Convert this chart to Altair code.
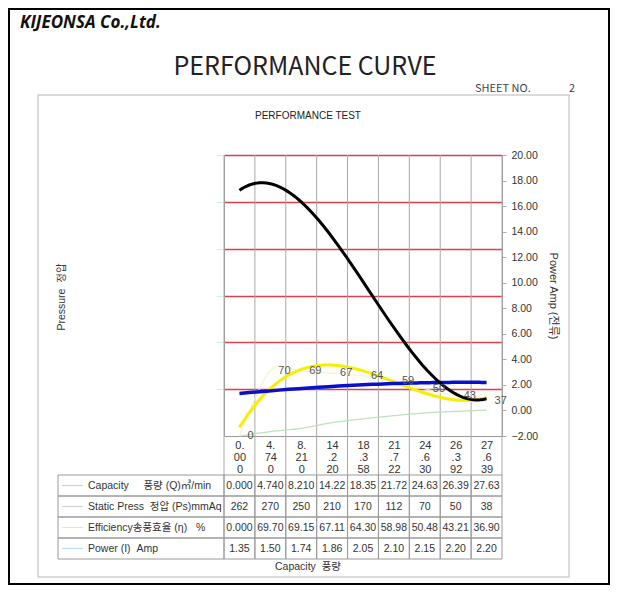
import altair as alt
import pandas as pd

# ---------------- data ----------------
capacity = [0.000, 4.740, 8.210, 14.220, 18.358, 21.722, 24.630, 26.392, 27.639]
static_press = [262, 270, 250, 210, 170, 112, 70, 50, 38]
efficiency = [0.000, 69.70, 69.15, 67.11, 64.30, 58.98, 50.48, 43.21, 36.90]
power_amp = [1.35, 1.50, 1.74, 1.86, 2.05, 2.10, 2.15, 2.20, 2.20]

NB = "\u00a0"
row_names = [
    "Capacity" + NB * 5 + "풍량 (Q)㎥/min",
    "Static Press" + NB * 2 + "정압 (Ps)mmAq",
    "Efficiency송풍효율 (η)" + NB * 3 + "%",
    "Power (I)" + NB * 2 + "Amp",
]
row_swatch = ["#b9e0b9", "#d2d2d2", "#eeeaa0", "#b5dfec"]
pressure_grid = [50, 100, 150, 200, 250, 300]
power_ticks = [-2, 0, 2, 4, 6, 8, 10, 12, 14, 16, 18, 20]

n = len(capacity)
cap_labels = [f"{c:.3f}" for c in capacity]

FONT = "Liberation Sans, Noto Sans CJK KR, sans-serif"
W, H = 278, 281

base = pd.DataFrame({
    "idx": list(range(n)),
    "cap": capacity,
    "press": static_press,
    "eff": efficiency,
    "pwr": power_amp,
    "eff_lbl": [str(round(e)) for e in efficiency],
})

table_cols = [
    [f"{c:.3f}"[:5] for c in capacity],
    [str(p) for p in static_press],
    [f"{e:.3f}"[:5] for e in efficiency],
    [f"{p:.2f}" for p in power_amp],
]
cells = pd.DataFrame([
    {"row": row_names[r], "i": i, "txt": table_cols[r][i]}
    for r in range(len(row_names)) for i in range(n)
])
rows_df = pd.DataFrame({"row": row_names})
bounds = pd.DataFrame({"b": [i - 0.5 for i in range(n + 1)]})

# ---------------- scales / axes ----------------
xscale = alt.Scale(domain=[-0.5, n - 0.5], nice=False, zero=False)
arr = "[" + ",".join("'%s'" % s for s in cap_labels) + "]"
lab = f"{arr}[datum.value]"
xaxis = alt.Axis(
    values=list(range(n)), title=None,
    labelExpr=f"[substring({lab},0,2), substring({lab},2,4), substring({lab},4,6)]",
    ticks=False, tickSize=0, grid=False, domainColor="#9a9a9a",
    labelFont=FONT, labelFontSize=11, labelColor="#333333",
    labelBaseline="top", labelPadding=3, labelLineHeight=12, labelAngle=0,
)


def X(f):
    return alt.X(f, type="quantitative", scale=xscale, axis=xaxis)


pscale = alt.Scale(domain=[0, 300], nice=False, zero=True)
paxis = alt.Axis(
    values=pressure_grid, labels=False, title=None, grid=True,
    gridColor="#d9404c", gridWidth=1.3, domainColor="#9a9a9a",
    tickColor="#d3ecf4", tickSize=8, orient="left",
)


def YP(f, axis=True):
    return alt.Y(f, type="quantitative", scale=pscale, axis=paxis if axis else None)


wscale = alt.Scale(domain=[-2, 20], nice=False, zero=False)
waxis = alt.Axis(
    values=power_ticks, format=".2f", orient="right", grid=False,
    tickSize=4, tickColor="#aaaaaa", domainColor="#9a9a9a",
    labelPadding=5, labelFont=FONT, labelFontSize=10.5, labelColor="#333333",
    title="Power Amp (전류)", titleFont=FONT, titleFontSize=11,
    titleFontWeight="normal", titleColor="#333333", titlePadding=10,
)

ROW = alt.Y("row:N", scale=alt.Scale(domain=row_names, range=[320, 404],
                                       paddingInner=0, paddingOuter=0), axis=None)

# ---------------- plot layers ----------------
vgrid = alt.Chart(bounds).mark_rule(color="#a8a8a8", strokeWidth=1).encode(
    x=X("b"), y=alt.value(0), y2=alt.value(320))

green = alt.Chart(base).mark_line(color="#bde3bd", strokeWidth=1.2, interpolate="monotone").encode(
    x=X("idx"), y=YP("cap"))
pale = alt.Chart(base).mark_line(color="#f5f2c4", strokeWidth=1.1, interpolate="cardinal").encode(
    x=X("idx"), y=YP("eff"))
trend = alt.Chart(base).transform_regression("idx", "eff", method="poly", order=3).mark_line(
    color="#f4f000", strokeWidth=3).encode(x=X("idx"), y=YP("eff"))
g1 = alt.layer(vgrid, green, pale, trend)

blue = alt.Chart(base).transform_regression("idx", "pwr", method="poly", order=3).mark_line(
    color="#0a10c8", strokeWidth=3.5).encode(
    x=X("idx"), y=alt.Y("pwr", type="quantitative", scale=wscale, axis=waxis))

black = alt.Chart(base).transform_regression("idx", "press", method="poly", order=3).mark_line(
    color="black", strokeWidth=3).encode(x=X("idx"), y=YP("press", False))
labels = alt.Chart(base).mark_text(align="left", dx=8, baseline="middle", fontSize=11,
                                   color="#555555", font=FONT).encode(
    x=X("idx"), y=YP("eff", False), text="eff_lbl:N")
g3 = alt.layer(black, labels)

# ---------------- table ----------------
cell_rect = alt.Chart(cells).transform_calculate(x0="datum.i - 0.5", x1="datum.i + 0.5").mark_rect(
    filled=False, stroke="#9a9a9a", strokeWidth=1).encode(x=X("x0:Q"), x2="x1:Q", y=ROW)
cell_txt = alt.Chart(cells).mark_text(fontSize=10.5, color="#333333", font=FONT).encode(
    x=X("i"), y=ROW, text="txt:N")
lab_rect = alt.Chart(rows_df).mark_rect(filled=False, stroke="#9a9a9a", strokeWidth=1).encode(
    x=alt.value(-166), x2=alt.value(0), y=ROW)
lab_txt = alt.Chart(rows_df).mark_text(align="left", fontSize=10.5, color="#333333", font=FONT).encode(
    x=alt.value(-136), y=ROW, text="row:N")
swatch = alt.Chart(rows_df).mark_rule(strokeWidth=1.2).encode(
    x=alt.value(-162), x2=alt.value(-141), y=ROW,
    color=alt.Color("row:N", scale=alt.Scale(domain=row_names, range=row_swatch), legend=None))
g_table = alt.layer(cell_rect, cell_txt, lab_rect, lab_txt, swatch)

# ---------------- decorations ----------------
one = pd.DataFrame({"k": [0]})


def frame(x, x2, y, y2, color, w):
    return alt.Chart(one).mark_rect(filled=False, stroke=color, strokeWidth=w).encode(
        x=alt.value(x), x2=alt.value(x2), y=alt.value(y), y2=alt.value(y2))


def label(t, x, y, **kw):
    return alt.Chart(pd.DataFrame({"t": [t]})).mark_text(**kw).encode(
        x=alt.value(x), y=alt.value(y), text="t:N")


deco = alt.layer(
    frame(-215, 385, -146, 429, "black", 2),
    frame(-186, 345, -60, 422, "#d0d0d0", 1.5),
    label("KIJEONSA Co.,Ltd.", -204, -127, align="left", baseline="alphabetic",
          font="Open Sans", fontSize=17, fontWeight="bold", fontStyle="italic", color="#111111"),
    label("PERFORMANCE CURVE", 81, -80, align="center", baseline="alphabetic",
          font="Noto Sans CJK KR", fontSize=25, color="#222222"),
    label("SHEET" + NB + "NO.", 251, -63, align="left", baseline="alphabetic",
          font="Noto Sans CJK KR", fontSize=11, color="#444444"),
    label("2", 351, -63, align="right", baseline="alphabetic",
          font="Noto Sans CJK KR", fontSize=11, color="#444444"),
    label("PERFORMANCE TEST", 84, -39, align="center", baseline="middle",
          font=FONT, fontSize=10, color="#222222"),
    label("Capacity" + NB + NB + "풍량", 84, 412, align="center", baseline="middle",
          font=FONT, fontSize=10.5, color="#333333"),
    label("Pressure" + NB + NB + "정압", -162, 142, align="center", baseline="middle",
          font=FONT, fontSize=10.5, color="#333333", angle=270),
)

chart = alt.layer(g1, blue, g3, g_table, deco).resolve_scale(y="independent").properties(
    width=W, height=H,
    autosize=alt.AutoSizeParams(type="none"),
    padding={"left": 216, "top": 147, "right": 110, "bottom": 149},
    background="white",
).configure_view(stroke=None)

chart.save("out.html", embed_options={"renderer": "svg", "actions": False})
